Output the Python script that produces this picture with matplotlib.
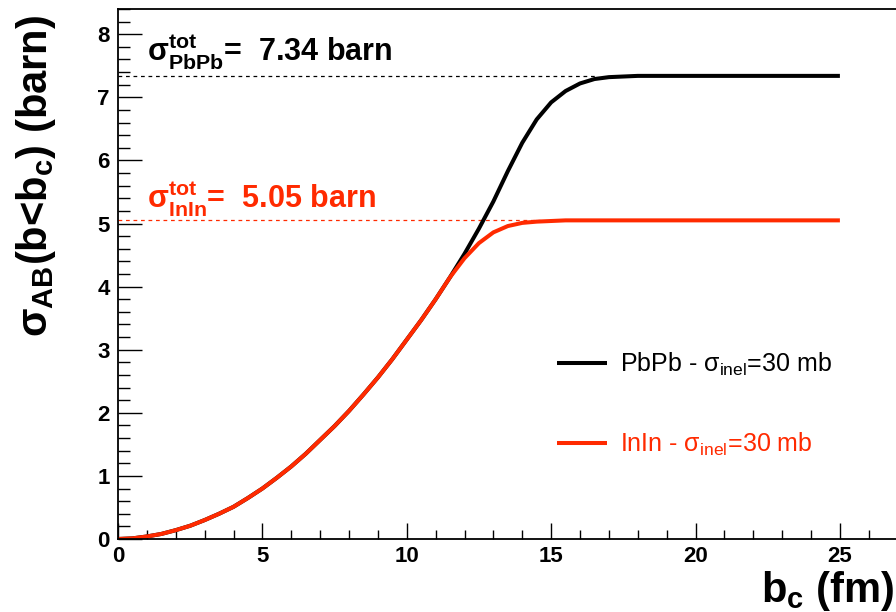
import matplotlib
matplotlib.use("Agg")
import matplotlib.pyplot as plt
from matplotlib.ticker import MultipleLocator

plt.rcParams['font.family'] = 'Liberation Sans'
plt.rcParams['mathtext.fontset'] = 'custom'
plt.rcParams['mathtext.rm'] = 'Liberation Sans'
plt.rcParams['mathtext.bf'] = 'Liberation Sans:bold'
plt.rcParams['mathtext.default'] = 'regular'

# impact parameter cut b_c (fm) and integrated cross section (barn)
b_c = [0, 0.5, 1, 1.5, 2, 2.5, 3, 3.5, 4, 4.5, 5, 5.5, 6, 6.5, 7, 7.5, 8, 8.5,
       9, 9.5, 10, 10.5, 11, 11.5, 12, 12.5, 13, 13.5, 14, 14.5, 15, 15.5, 16,
       16.5, 17, 17.5, 18, 19, 20, 21, 22, 23, 24, 25]
sigma_pbpb = [0, 0.01, 0.04, 0.08, 0.14, 0.21, 0.30, 0.40, 0.51, 0.65, 0.80, 0.97,
              1.15, 1.35, 1.57, 1.79, 2.03, 2.29, 2.56, 2.85, 3.16, 3.47, 3.80, 4.15,
              4.52, 4.92, 5.35, 5.83, 6.28, 6.65, 6.92, 7.10, 7.22, 7.29, 7.32, 7.33,
              7.34, 7.34, 7.34, 7.34, 7.34, 7.34, 7.34, 7.34]
sigma_inin = [0, 0.01, 0.04, 0.08, 0.14, 0.21, 0.30, 0.40, 0.51, 0.65, 0.80, 0.97,
              1.15, 1.35, 1.57, 1.79, 2.03, 2.29, 2.56, 2.85, 3.16, 3.47, 3.80, 4.15,
              4.45, 4.69, 4.86, 4.96, 5.01, 5.03, 5.04, 5.05, 5.05, 5.05, 5.05, 5.05,
              5.05, 5.05, 5.05, 5.05, 5.05, 5.05, 5.05, 5.05]
tot_pbpb = 7.34
tot_inin = 5.05

red = '#ff2a00'

fig = plt.figure(figsize=(8.96, 6.12), dpi=100)
ax = fig.add_axes([118 / 896, 73 / 612, 786 / 896, 530 / 612])

# totals as dashed guides
ax.plot([0, 16.6], [tot_pbpb, tot_pbpb], color='black', lw=0.9, ls=(0, (3, 3)))
ax.plot([0, 14.6], [tot_inin, tot_inin], color=red, lw=0.9, ls=(0, (3, 3)))

ax.plot(b_c, sigma_pbpb, color='black', lw=2.9, solid_capstyle='butt',
        label=r'PbPb - $\sigma_{inel}$=30 mb')
ax.plot(b_c, sigma_inin, color=red, lw=2.9, solid_capstyle='butt',
        label=r'InIn - $\sigma_{inel}$=30 mb')

ax.set_xlim(0, 27.22)
ax.set_ylim(0, 8.40)
ax.xaxis.set_major_locator(MultipleLocator(5))
ax.xaxis.set_minor_locator(MultipleLocator(1))
ax.yaxis.set_major_locator(MultipleLocator(1))
ax.yaxis.set_minor_locator(MultipleLocator(0.2))
ax.tick_params(axis='both', which='both', direction='in', width=1.0,
               top=False, right=False)
ax.tick_params(axis='y', which='major', length=17, pad=6)
ax.tick_params(axis='y', which='minor', length=8.5)
ax.tick_params(axis='x', which='major', length=11.5, pad=5)
ax.tick_params(axis='x', which='minor', length=6.5)
for lab in ax.get_xticklabels() + ax.get_yticklabels():
    lab.set_fontsize(16)
    lab.set_fontweight('bold')
for side in ['left', 'bottom', 'top']:
    ax.spines[side].set_linewidth(1.3)
ax.spines['right'].set_visible(False)

ax.text(1.0, 7.57, r'σ$^{tot}_{PbPb}$=  7.34 barn', fontsize=22,
        fontweight='bold', color='black', va='baseline')
ax.text(1.0, 5.245, r'σ$^{tot}_{InIn}$=  5.05 barn', fontsize=22,
        fontweight='bold', color=red, va='baseline')

leg = ax.legend(loc='upper left', bbox_to_anchor=(0.53, 0.398), frameon=False,
                fontsize=18, handlelength=2.0, handletextpad=0.5,
                labelspacing=2.12, labelcolor='linecolor')

fig.text(0.998, 0.016, r'$b_c$ (fm)', fontsize=30, fontweight='bold',
         ha='right', va='baseline')
fig.text(0.040, 0.712, r'σ$_{AB}$(b<b$_c$) (barn)', fontsize=30,
         fontweight='bold', rotation=90, ha='center', va='center')

fig.savefig('out.png', dpi=100)
